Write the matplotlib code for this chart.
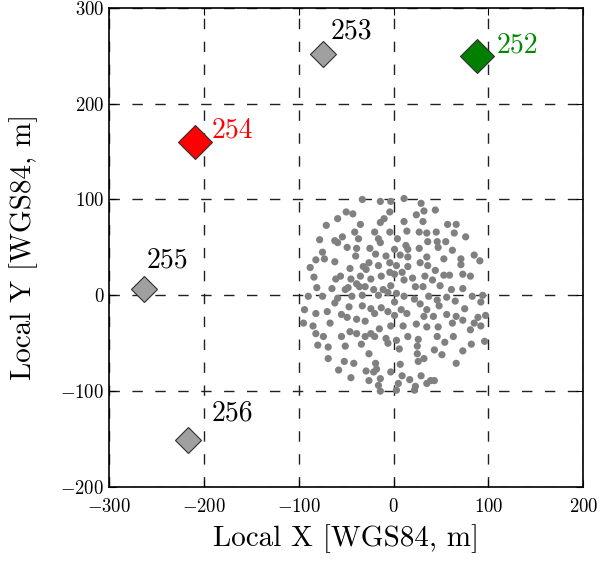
import numpy as np
import matplotlib
matplotlib.use("Agg")
import matplotlib.pyplot as plt

plt.rcParams["font.family"] = "serif"
plt.rcParams["font.serif"] = ["cmr10"]
plt.rcParams["mathtext.fontset"] = "cm"
plt.rcParams["axes.formatter.use_mathtext"] = True

# ── Data (local metres) ──────────────────────────────────────────────────────
cloud_x = [
    -33, -14, -3, 11, 29,
    -50, -43, -4, 44, 32, 24, -59,
    -71, -35, -14, -10, 11, 31, 57, 66, 14,
    -41, -20, -4, 27, 35, 45, 64, 76, -54,
    -78, -62, -59, -37, -16, -14, 4, 36, 46, 55, -49,
    -39, -25, 1, 13, 15, 27, 47, 62, -75,
    -82, -73, -40, -19, -8, 7, 15, 35, 53, 71, 85, 91,
    -62, -46, -32, -26, -16, -4, 3, 15, 28, 36, 44, 71, -88, -29,
    -84, -61, -45, -35, -24, -13, -4, 1, 9, 20, 33, 53, 59, 73, 81, -56,
    -81, -65, -48, -36, -30, -21, -11, -3, 11, 23, 31, 41, 49, 61, 73, 94, 92, -51, -39,
    -90, -75, -59, -44, -33, -16, -6, 3, 11, 22, 37, 46, 56, 83,
    -94, -82, -70, -62, -47, -33, -24, -13, 1, 8, 28, 35, 48, 65, 75, 89,
    -95, -85, -67, -55, -49, -39, -30, -20, -6, 1, 14, 32, 42, 56, 66, 73, 97,
    -82, -74, -46, -39, -24, -15, -3, 10, 24, 35, 47, 62, 81, 85, 92,
    -55, -30, -20, -8, 3, 15, 26, 46, 54, 63, 96, 82, -80, -69, -51, -34, -6,
    -69, -26, 6, 25, 32, 43, 51, 73, 25,
    -52, -42, -19, 7, 26, 66, -58, -18, -21,
    -29, -45, -3, 9, 29, 17, -14, -26, 39, 43,
    -16, 5, 23, 35, -14, 3, 22,
]
cloud_y = [
    100, 98, 98, 101, 96,
    87, 85, 87, 89, 88, 84, 80,
    73, 74, 76, 80, 77, 77, 74, 74, 67,
    66, 66, 66, 66, 65, 66, 65, 61, 61,
    58, 57, 55, 59, 59, 55, 59, 56, 56, 56, 50,
    49, 49, 48, 52, 48, 49, 50, 47, 45,
    37, 38, 41, 43, 41, 42, 40, 40, 38, 38, 42, 36,
    35, 28, 30, 34, 31, 34, 31, 30, 34, 31, 26, 32, 29, 27,
    19, 17, 17, 20, 17, 20, 24, 22, 24, 18, 20, 21, 21, 22, 20, 20,
    8, 7, 8, 9, 9, 6, 6, 10, 16, 9, 9, 16, 10, 6, 7, 0, -7, 6, 12,
    -1, -1, -3, -1, 0, 0, 3, 2, -1, -4, -1, -5, -2, -1,
    -15, -19, -17, -8, -12, -11, -14, -13, -7, -15, -9, -15, -11, -6, -14, -23,
    -29, -32, -29, -20, -23, -25, -27, -19, -17, -21, -19, -22, -22, -20, -22, -26, -21,
    -40, -43, -38, -40, -40, -35, -32, -32, -30, -33, -33, -29, -36, -29, -32,
    -43, -43, -43, -45, -47, -43, -46, -43, -49, -43, -48, -51, -52, -54, -53, -51, -50,
    -66, -61, -56, -61, -66, -57, -62, -58, -53,
    -69, -71, -71, -72, -69, -71, -78, -77, -80,
    -79, -86, -80, -84, -84, -88, -87, -89, -89, -89,
    -94, -92, -95, -92, -100, -99, -99,
]

station_ids = ["252", "253", "254", "255", "256"]
station_x = [88, -75, -210, -263, -217]
station_y = [250, 252, 160, 7, -151]
label_dx = [21, 9, 18, 3, 25]
label_dy = [11, 23, 12, 29, 28]
station_face = ["#007f00", "#a0a0a0", "#ff0000", "#a0a0a0", "#a0a0a0"]
station_text = ["#008800", "black", "#ff0000", "black", "black"]
station_ms = [17, 13, 17, 13, 13]

# ── Plot ─────────────────────────────────────────────────────────────────────
fig = plt.figure(figsize=(6.0, 5.61), dpi=100)
ax = fig.add_axes([0.182, 0.132, 0.790, 0.854])

ax.scatter(cloud_x, cloud_y, s=27, color="#808080", edgecolors="none", zorder=3)

for sid, x, y, dx, dy, fc, tc, ms in zip(station_ids, station_x, station_y,
                                         label_dx, label_dy, station_face,
                                         station_text, station_ms):
    ax.plot(x, y, marker="D", ms=ms, markerfacecolor=fc,
            markeredgecolor="#303030", markeredgewidth=0.8, zorder=4)
    ax.text(x + dx, y + dy, sid, color=tc, fontsize=20, va="center", ha="left",
            zorder=5)

ax.set_xlim(-300, 200)
ax.set_ylim(-200, 300)
ax.set_xticks(np.arange(-300, 201, 100))
ax.set_yticks(np.arange(-200, 301, 100))
ax.tick_params(direction="in", top=True, right=True, labelsize=13.5, length=5)
ax.tick_params(axis="x", pad=8)
ax.grid(True, color="#202020", linestyle=(0, (7.5, 9)), linewidth=1.0)
ax.set_axisbelow(True)
for sp in ax.spines.values():
    sp.set_linewidth(1.2)

ax.set_xlabel("Local X [WGS84, m]", fontsize=21, labelpad=6)
ax.set_ylabel("Local Y [WGS84, m]", fontsize=21, labelpad=16)

fig.savefig("out.png", dpi=100)
